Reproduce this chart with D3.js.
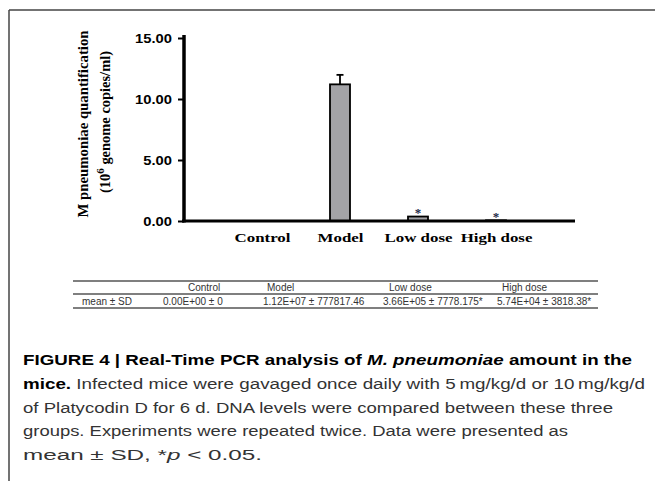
<!DOCTYPE html>
<html>
<head>
<meta charset="utf-8">
<script src="https://cdn.jsdelivr.net/npm/d3@7"></script>
<style>
  body { margin: 0; background: #fff; }
</style>
</head>
<body>
<div id="chart"></div>
<script>
// data (values in 10^6 genome copies/ml)
const groups = ["Control", "Model", "Low dose", "High dose"];
const means = [0, 11.2, 0.366, 0.0574];
const sds = [0, 0.778, 0.0078, 0.0038];
const signif = [false, false, true, true];
const yTicks = [0, 5, 10, 15];

const tableHead = ["Control", "Model", "Low dose", "High dose"];
const tableRowLabel = "mean \u00b1 SD";
const tableRow = ["0.00E+00 \u00b1 0", "1.12E+07 \u00b1 777817.46", "3.66E+05 \u00b1 7778.175*", "5.74E+04 \u00b1 3818.38*"];

const captionLines = [
    [["b", "FIGURE 4 | Real-Time PCR analysis of "], ["bi", "M. pneumoniae"], ["b", " amount in the"]],
    [["b", "mice."], ["n", " Infected mice were gavaged once daily with 5\u2009mg/kg/d or 10\u2009mg/kg/d"]],
    [["n", "of Platycodin D for 6 d. DNA levels were compared between these three"]],
    [["n", "groups. Experiments were repeated twice. Data were presented as"]],
    [["n", "mean \u00b1 SD, *"], ["i", "p"], ["n", " < 0.05."]]
];

const W = 655, H = 481;

var svg = d3.select("#chart")
    .append("svg")
        .attr("width", W)
        .attr("height", H);

// frame
svg.append("line").attr("x1", 9).attr("x2", W).attr("y1", 10).attr("y2", 10)
    .attr("stroke", "#444").attr("stroke-width", 1.5);
svg.append("line").attr("x1", 9).attr("x2", 9).attr("y1", 10).attr("y2", H)
    .attr("stroke", "#444").attr("stroke-width", 1.5);

// the figure is squeezed wider than tall, so text gets stretched sideways
function widen(sel, f) {
    sel.each(function() {
        var w = this.getComputedTextLength();
        d3.select(this).attr("textLength", w * f).attr("lengthAdjust", "spacingAndGlyphs");
    });
}

var x = d3.scalePoint()
    .domain(groups)
    .range([262, 496]);

var y = d3.scaleLinear()
    .domain([0, 15])
    .range([221, 38]);

var barW = 20;

// bars
svg.append("g")
    .selectAll("rect")
    .data(groups)
    .join("rect")
        .attr("x", function(d) { return x(d) - barW / 2; })
        .attr("y", function(d, i) { return y(means[i]); })
        .attr("width", barW)
        .attr("height", function(d, i) { return y(0) - y(means[i]); })
        .attr("fill", "#a3a3a7")
        .attr("stroke", "#000")
        .attr("stroke-width", 1.8);

// error bars
var err = svg.append("g").attr("stroke", "#000").attr("stroke-width", 1.8);
groups.forEach(function(g, i) {
    if (sds[i] <= 0 || y(means[i]) - y(means[i] + sds[i]) < 2) return;
    err.append("line")
        .attr("x1", x(g)).attr("x2", x(g))
        .attr("y1", y(means[i])).attr("y2", y(means[i] + sds[i]));
    err.append("line")
        .attr("x1", x(g) - 3.5).attr("x2", x(g) + 3.5)
        .attr("y1", y(means[i] + sds[i])).attr("y2", y(means[i] + sds[i]));
});

// significance stars
svg.append("g")
    .selectAll("text")
    .data(groups.filter(function(d, i) { return signif[i]; }))
    .join("text")
        .attr("x", function(d) { return x(d); })
        .attr("y", function(d) { var i = groups.indexOf(d); return y(means[i] + sds[i]) + 1; })
        .attr("text-anchor", "middle")
        .style("font-family", "Liberation Serif")
        .style("font-size", "13px")
        .style("font-weight", "bold")
        .style("fill", "#1c2a48")
        .text("*");

// y axis
var yAxis = svg.append("g")
    .attr("transform", "translate(184,0)")
    .call(d3.axisLeft(y).tickValues(yTicks).tickFormat(d3.format(".2f")).tickSize(6).tickSizeOuter(0).tickPadding(6));
yAxis.select(".domain").remove();
yAxis.selectAll(".tick line").attr("stroke", "#000").attr("stroke-width", 2);
yAxis.selectAll(".tick text")
    .attr("dy", "0.36em")
    .style("font-family", "Liberation Sans")
    .style("font-size", "12.5px")
    .style("font-weight", "bold")
    .style("fill", "#000");
widen(yAxis.selectAll(".tick text"), 1.18);
svg.append("line")
    .attr("x1", 184).attr("x2", 184)
    .attr("y1", y(0) + 1.5).attr("y2", y(15) - 3)
    .attr("stroke", "#000").attr("stroke-width", 3.5);

// x axis
var xAxis = svg.append("g")
    .attr("transform", "translate(0," + y(0) + ")")
    .call(d3.axisBottom(x).tickSize(0));
xAxis.select(".domain").remove();
xAxis.selectAll(".tick text")
    .attr("y", 21)
    .attr("dy", 0)
    .style("font-family", "Liberation Serif")
    .style("font-size", "13.5px")
    .style("font-weight", "bold")
    .style("fill", "#000");
widen(xAxis.selectAll(".tick text"), 1.25);
svg.append("line")
    .attr("x1", 182).attr("x2", 575)
    .attr("y1", y(0)).attr("y2", y(0))
    .attr("stroke", "#000").attr("stroke-width", 3);

// y axis title
var ylab = svg.append("g")
    .style("font-family", "Liberation Serif")
    .style("font-weight", "bold")
    .style("fill", "#000");
ylab.append("text")
    .attr("transform", "translate(88,124) rotate(-90)")
    .attr("text-anchor", "middle")
    .style("font-size", "14.5px")
    .attr("textLength", 187)
    .attr("lengthAdjust", "spacingAndGlyphs")
    .text("M pneumoniae quantification");
var t2 = ylab.append("text")
    .attr("transform", "translate(110,122) rotate(-90)")
    .attr("text-anchor", "middle")
    .style("font-size", "14.5px")
    .attr("textLength", 142)
    .attr("lengthAdjust", "spacingAndGlyphs");
t2.append("tspan").text("(10");
t2.append("tspan").attr("dy", -6).style("font-size", "11px").text("6");
t2.append("tspan").attr("dy", 6).text(" genome copies/ml)");

// table
var colHead = [188, 267, 389, 502];
var colRow = [163, 263, 383, 497];
var tbl = svg.append("g")
    .style("font-family", "Liberation Sans")
    .style("font-size", "10px")
    .style("fill", "#333");
[281, 294, 308].forEach(function(ly) {
    tbl.append("line").attr("x1", 73).attr("x2", 598).attr("y1", ly).attr("y2", ly)
        .attr("stroke", "#555").attr("stroke-width", 1.3);
});
tbl.selectAll("text.head")
    .data(tableHead)
    .join("text")
        .attr("class", "head")
        .attr("x", function(d, i) { return colHead[i]; })
        .attr("y", 291)
        .text(function(d) { return d; });
tbl.append("text").attr("class", "cell").attr("x", 82).attr("y", 305).text(tableRowLabel);
tbl.selectAll("text.val")
    .data(tableRow)
    .join("text")
        .attr("class", "val")
        .attr("x", function(d, i) { return colRow[i]; })
        .attr("y", 305)
        .text(function(d) { return d; });

// caption
var capW = [609, 622, 590, 545, 239];
var cap = svg.append("g")
    .style("font-family", "Liberation Sans")
    .style("font-size", "14px");
captionLines.forEach(function(parts, li) {
    var t = cap.append("text")
        .attr("x", 23)
        .attr("y", 365 + li * 23.8)
        .attr("textLength", capW[li])
        .attr("lengthAdjust", "spacingAndGlyphs");
    parts.forEach(function(p) {
        t.append("tspan")
            .style("font-weight", p[0].indexOf("b") >= 0 ? "bold" : "normal")
            .style("font-style", p[0].indexOf("i") >= 0 ? "italic" : "normal")
            .style("fill", p[0].indexOf("b") >= 0 ? "#000" : "#333")
            .text(p[1]);
    });
});
</script>
</body>
</html>
